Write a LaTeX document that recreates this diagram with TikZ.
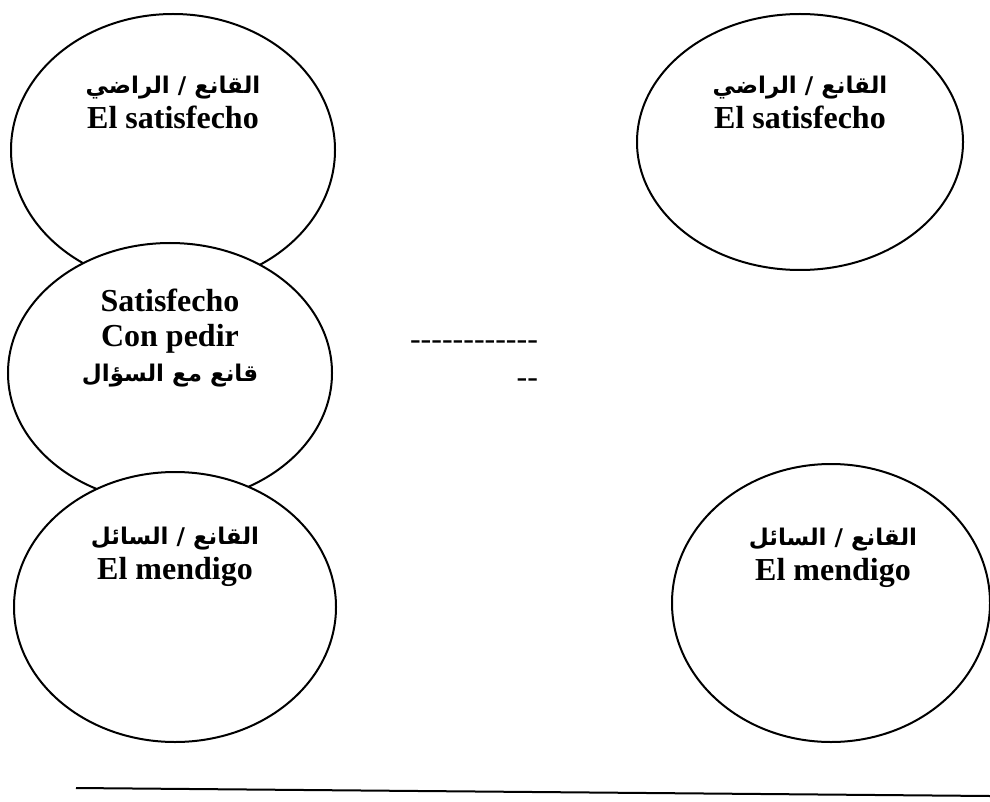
\documentclass[tikz,border=0pt]{standalone}
\usepackage{fontspec}
\setmainfont{Liberation Serif}
\newfontfamily\arabicfont[Script=Arabic]{DejaVu Sans}
\TeXXeTstate=1
\usetikzlibrary{shapes.geometric}
\newcommand{\ar}[1]{{\arabicfont\fontsize{11.5}{16}\selectfont\beginR #1\endR}}
\newcommand{\hy}{\hbox{-}}
\tikzset{
  bubble/.style={ellipse, draw, line width=1pt, fill=white, inner sep=0pt},
  caption/.style={align=center, font=\bfseries\fontsize{16}{17.5}\selectfont},
}
\begin{document}
\begin{tikzpicture}[x=0.5pt, y=-0.5pt]
      \useasboundingbox (0,0) rectangle (990,802);

      % left column, drawn top to bottom so each one hides the one above
      \node [bubble, minimum width=162pt, minimum height=136pt] (satL) at (173,150) {};
      \node [caption] (satLtxt) at (173,102) {\ar{القانع / الراضي}\\El satisfecho};

      \node [bubble, minimum width=162pt, minimum height=130pt] (pedir) at (170,373) {};
      \node [caption] (pedirtxt) at (170,338) {Satisfecho\\Con pedir\\\ar{قانع مع السؤال}};

      \node [bubble, minimum width=161pt, minimum height=135pt] (mendL) at (175,607) {};
      \node [caption] (mendLtxt) at (175,557) {\ar{القانع / السائل}\\El mendigo};

      % right column
      \node [bubble, minimum width=163pt, minimum height=128pt] (satR) at (800,142) {};
      \node [caption] (satRtxt) at (800,102) {\ar{القانع / الراضي}\\El satisfecho};

      \node [bubble, minimum width=159pt, minimum height=139pt] (mendR) at (831,603) {};
      \node [caption] (mendRtxt) at (833,558) {\ar{القانع / السائل}\\El mendigo};

      % dashes between the columns
      \node [align=right, anchor=east, font=\fontsize{16}{19}\selectfont] (gap) at (545,364)
        {\hy\hy\hy\hy\hy\hy\hy\hy\hy\hy\hy\hy\\\hy\hy};

      % rule at the foot
      \coordinate (ruleL) at (76,788);
      \coordinate (ruleR) at (990,796);
      \draw [line width=1pt] (ruleL) -- (ruleR);
\end{tikzpicture}
\end{document}
